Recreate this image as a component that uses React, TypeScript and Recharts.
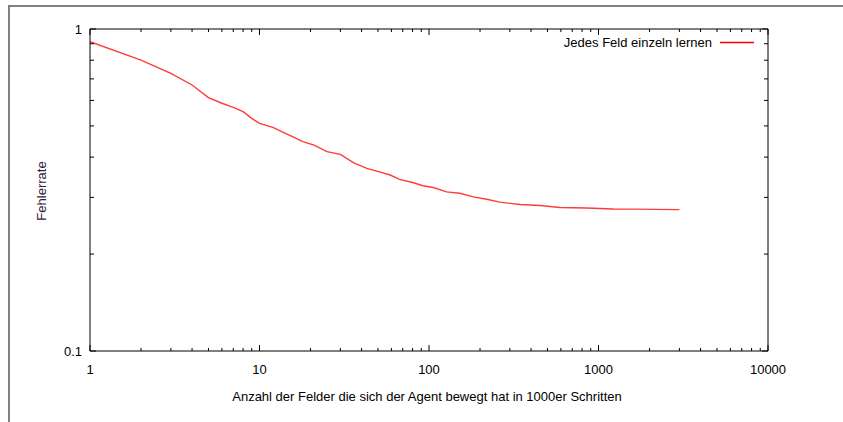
import { LineChart, Line, XAxis, YAxis, Customized } from 'recharts'

// Schritte (in 1000er Schritten) und Fehlerrate
const schritte = [1, 2, 3, 4, 5, 6, 7, 8, 9, 10, 12, 14, 16, 18, 21, 25, 30, 36, 43, 51, 59, 67, 81, 92, 106, 127, 152, 183, 219, 262, 344, 452, 593, 852, 1223, 1604, 2105, 3000]
const fehlerrate = [0.913, 0.8, 0.728, 0.67, 0.612, 0.588, 0.571, 0.554, 0.528, 0.509, 0.495, 0.476, 0.461, 0.447, 0.436, 0.416, 0.408, 0.384, 0.369, 0.36, 0.352, 0.341, 0.333, 0.326, 0.322, 0.312, 0.309, 0.301, 0.296, 0.29, 0.285, 0.283, 0.279, 0.278, 0.276, 0.2758, 0.2753, 0.2748]

const xTicks = [1, 2, 3, 4, 5, 6, 7, 8, 9, 10, 20, 30, 40, 50, 60, 70, 80, 90, 100, 200, 300, 400, 500, 600, 700, 800, 900, 1000, 2000, 3000, 4000, 5000, 6000, 7000, 8000, 9000, 10000]
const yTicks = [0.1, 0.2, 0.3, 0.4, 0.5, 0.6, 0.7, 0.8, 0.9, 1]
const xLabels = [1, 10, 100, 1000, 10000]
const yLabels = [0.1, 1]

const legendName = 'Jedes Feld einzeln lernen'
const font = '"Liberation Sans", Arial, sans-serif'
const fs = 13

const data = schritte.map((s, i) => ({ s, f: fehlerrate[i] }))

const isMajorX = (v: number) => xLabels.includes(v)
const isMajorY = (v: number) => yLabels.includes(v)

const BottomTick = (props: any) => {
  const { x, y, payload } = props
  const major = isMajorX(payload.value)
  return (
    <g>
      <line x1={x} x2={x} y1={y} y2={y - (major ? 6 : 3)} stroke="#000" />
      {major && (
        <text x={x} y={y + 23} textAnchor="middle" fontSize={fs} fontFamily={font} fill="#000">
          {payload.value}
        </text>
      )}
    </g>
  )
}

const TopTick = (props: any) => {
  const { x, y, payload } = props
  const major = isMajorX(payload.value)
  return <line x1={x} x2={x} y1={y} y2={y + (major ? 6 : 3)} stroke="#000" />
}

const LeftTick = (props: any) => {
  const { x, y, payload } = props
  const major = isMajorY(payload.value)
  return (
    <g>
      <line x1={x} x2={x + (major ? 6 : 4)} y1={y} y2={y} stroke="#000" />
      {major && (
        <text x={x - 8} y={y + 5} textAnchor="end" fontSize={fs} fontFamily={font} fill="#000">
          {payload.value}
        </text>
      )}
    </g>
  )
}

const RightTick = (props: any) => {
  const { x, y, payload } = props
  const major = isMajorY(payload.value)
  return <line x1={x} x2={x - (major ? 6 : 4)} y1={y} y2={y} stroke="#000" />
}

const Legende = () => (
  <g>
    <text x={712} y={47} textAnchor="end" fontSize={fs} fontFamily={font} fill="#000">
      {legendName}
    </text>
    <line x1={720} x2={754} y1={42.5} y2={42.5} stroke="#ff0000" strokeWidth={1.3} />
  </g>
)

const Beschriftung = () => (
  <g>
    <text x={427} y={401} textAnchor="middle" fontSize={fs} fontFamily={font} fill="#000">
      Anzahl der Felder die sich der Agent bewegt hat in 1000er Schritten
    </text>
    <text
      x={46}
      y={191}
      textAnchor="middle"
      fontSize={fs}
      fontFamily={font}
      fill="#302040"
      transform="rotate(-90 46 191)"
    >
      Fehlerrate
    </text>
  </g>
)

export default function App() {
  return (
    <div style={{ position: 'absolute', left: 0, top: 0, width: 843, height: 422, background: '#fff', overflow: 'hidden' }}>
      <div
        style={{
          position: 'absolute',
          left: 8,
          top: 5,
          width: 840,
          height: 420,
          borderTop: '2px solid #808080',
          borderLeft: '2px solid #808080',
        }}
      />
      <LineChart width={843} height={422} data={data} margin={{ top: 0, right: 0, bottom: 0, left: 0 }} style={{ position: 'absolute', left: 0, top: 0 }}>
        <XAxis
          xAxisId="b"
          dataKey="s"
          type="number"
          scale="log"
          domain={[1, 10000]}
          ticks={xTicks}
          interval={0}
          height={71}
          tickSize={0}
          tickMargin={0}
          tickLine={false}
          axisLine={{ stroke: '#000' }}
          tick={<BottomTick />}
          allowDataOverflow
        />
        <XAxis
          xAxisId="t"
          orientation="top"
          dataKey="s"
          type="number"
          scale="log"
          domain={[1, 10000]}
          ticks={xTicks}
          interval={0}
          height={29}
          tickSize={0}
          tickMargin={0}
          tickLine={false}
          axisLine={{ stroke: '#000' }}
          tick={<TopTick />}
          allowDataOverflow
        />
        <YAxis
          yAxisId="l"
          type="number"
          scale="log"
          domain={[0.1, 1]}
          ticks={yTicks}
          interval={0}
          width={90}
          tickSize={0}
          tickMargin={0}
          tickLine={false}
          axisLine={{ stroke: '#000' }}
          tick={<LeftTick />}
          allowDataOverflow
        />
        <YAxis
          yAxisId="r"
          orientation="right"
          type="number"
          scale="log"
          domain={[0.1, 1]}
          ticks={yTicks}
          interval={0}
          width={75}
          tickSize={0}
          tickMargin={0}
          tickLine={false}
          axisLine={{ stroke: '#000' }}
          tick={<RightTick />}
          allowDataOverflow
        />
        <Line
          xAxisId="b"
          yAxisId="l"
          type="linear"
          dataKey="f"
          stroke="#ff3b3b"
          strokeWidth={1.4}
          dot={false}
          isAnimationActive={false}
        />
        <Customized component={Legende} />
        <Customized component={Beschriftung} />
      </LineChart>
    </div>
  )
}
